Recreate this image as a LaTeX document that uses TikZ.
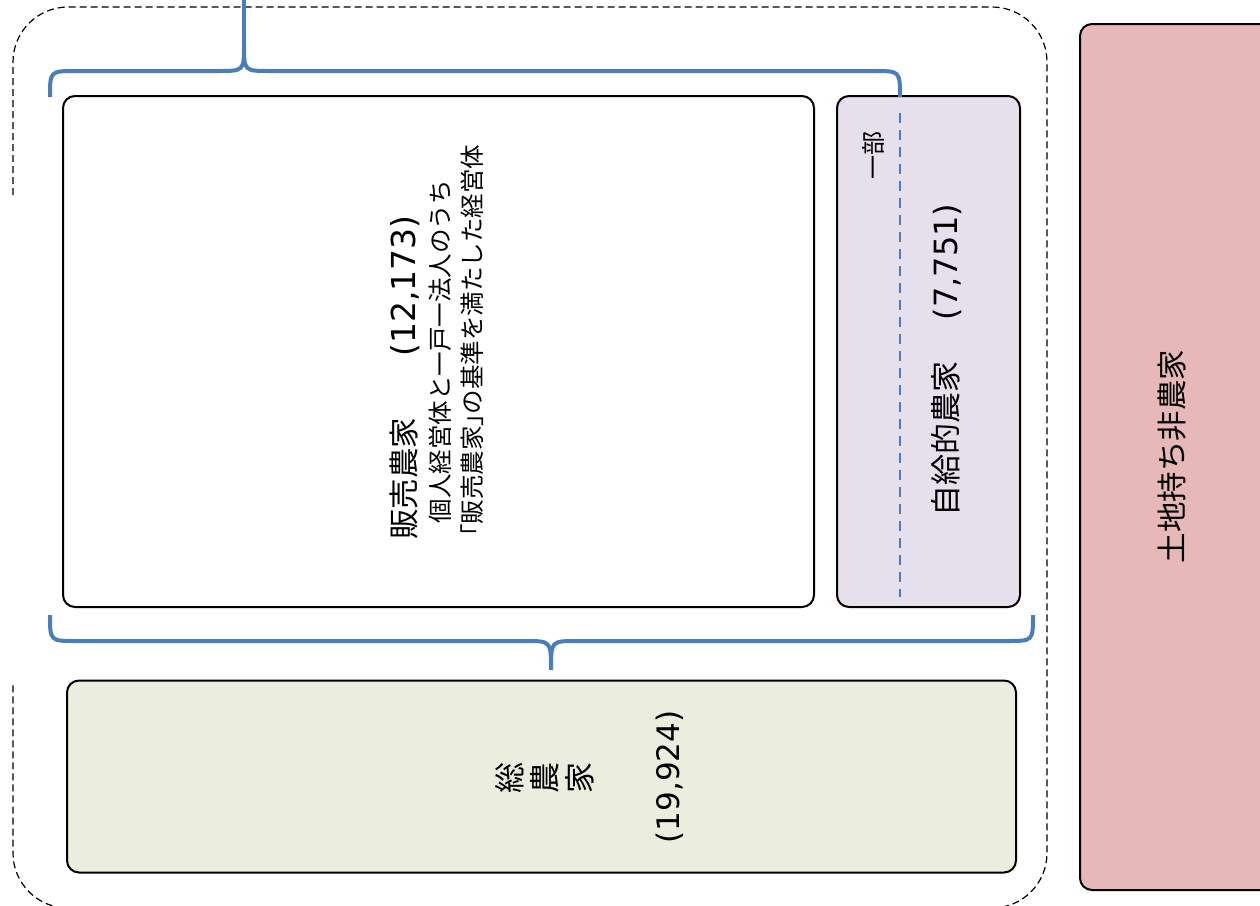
\documentclass[tikz,border=0pt]{standalone}
\usepackage{fontspec}
\setmainfont{Noto Sans CJK JP}
\newfontfamily\lat{DejaVu Sans}
\definecolor{braceblue}{HTML}{4A7EBB}
\definecolor{lav}{HTML}{E5E0EC}
\definecolor{olive}{HTML}{EBEEDE}
\definecolor{pink}{HTML}{E6B9B8}
\newcommand{\fs}[1]{\fontsize{#1}{#1}\selectfont}
\begin{document}
\begin{tikzpicture}[x=1pt,y=-1pt,
  box/.style={draw=black, line width=2pt, rounded corners=12pt, inner sep=0pt},
  lbl/.style={rotate=90, inner sep=0pt, anchor=center},
  brace/.style={draw=braceblue, line width=4pt},
  outline/.style={draw=black, line width=1.2pt, dash pattern=on 7pt off 4pt}]
\useasboundingbox (0,0) rectangle (1260,905);
\clip (0,0) rectangle (1260,905);
% dashed outline (open on the left)
\coordinate (oA) at (13,195);
\coordinate (oB) at (13,682);
\draw[outline, rounded corners=55pt] (oA) -- (13,7) -- (1047,7) -- (1047,908) -- (13,908) -- (oB);
% boxes
\node[box, fill=white, minimum width=751pt, minimum height=511pt] (sales) at (438.5,351.5) {};
\node[box, fill=lav, minimum width=183pt, minimum height=511pt] (self) at (928.5,351.5) {};
\node[box, fill=olive, minimum width=949pt, minimum height=192pt] (total) at (541.5,776.5) {};
\node[box, fill=pink, minimum width=210pt, minimum height=866pt] (nonfarm) at (1185,457) {};
% braces
\coordinate (topin) at (244,0);
\coordinate (toptip) at (244,45);
\coordinate (bottip) at (551,670);
\draw[brace] (topin) -- (toptip);
\draw[brace] (50,97) .. controls (50,71) .. (76,71) -- (218,71) .. controls (244,71) .. (toptip)
  .. controls (244,71) .. (270,71) -- (874,71) .. controls (900,71) .. (900,97);
\draw[brace] (50,615) .. controls (50,641) .. (76,641) -- (525,641) .. controls (551,641) .. (bottip)
  .. controls (551,641) .. (577,641) -- (1007,641) .. controls (1033,641) .. (1033,615);
% dashed blue line in self box
\coordinate (dA) at (900,113);
\coordinate (dB) at (900,597);
\draw[draw=braceblue, line width=2.5pt, dash pattern=on 10pt off 7pt] (dA) -- (dB);
% texts
\node[lbl, font=\fs{30.5}] (salesA) at (405,377.5) {販売農家　　{\lat\fs{33}(12,173)}};
\node[lbl, font=\fs{24.5}] (salesB) at (440,351.5) {個人経営体と一戸一法人のうち};
\node[lbl, font=\fs{24.5}] (salesC) at (472,340.5) {\hspace*{-0.5em}「販売農家」\hspace{-0.5em}の基準を満たした経営体};
\node[lbl, font=\fs{31}] (selfA) at (947,360) {自給的農家　{\lat\fs{32} (7,751)}};
\node[lbl, font=\fs{24}] (part) at (873,155) {一部};
\node[lbl, font=\fs{31}] (tA) at (510,778) {総};
\node[lbl, font=\fs{31}] (tB) at (545,778) {農};
\node[lbl, font=\fs{31}] (tC) at (580,778) {家};
\node[lbl, font=\lat\fs{31}] (tN) at (670,777) {(19,924)};
\node[lbl, font=\fs{30.5}] (nf) at (1172,456.5) {土地持ち非農家};
\end{tikzpicture}
\end{document}
